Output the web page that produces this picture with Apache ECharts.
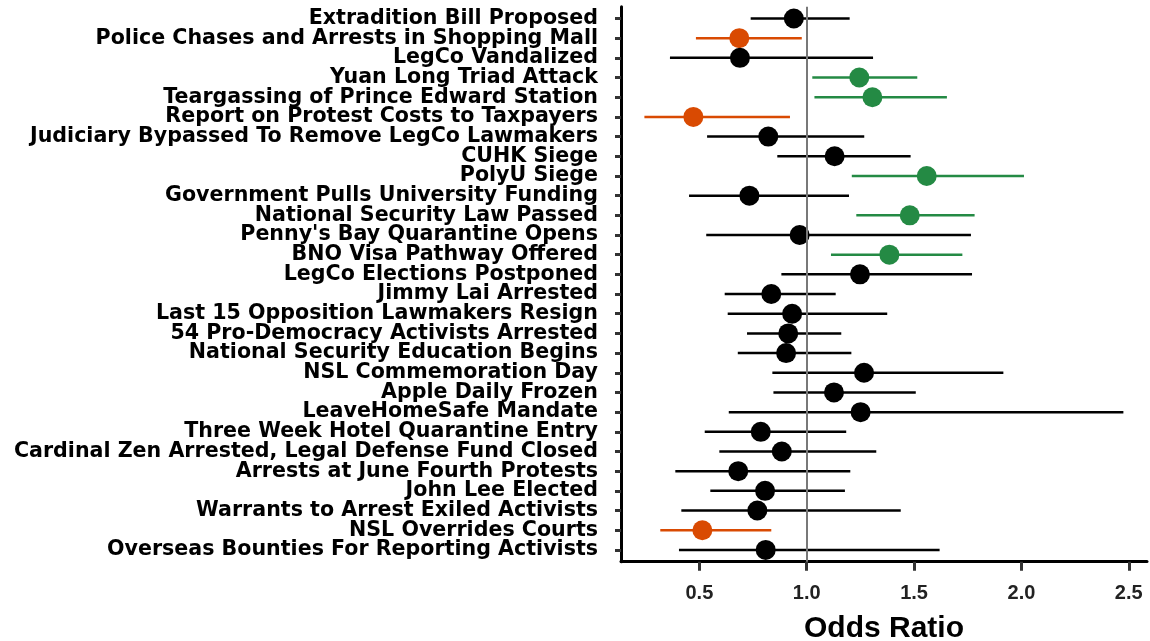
<!DOCTYPE html>
<html>
<head>
<meta charset="utf-8">
<script src="https://cdn.jsdelivr.net/npm/echarts@6/dist/echarts.min.js"></script>
<style>
  html, body { margin: 0; padding: 0; background: #ffffff; }
  #chart { width: 1150px; height: 641px; }
</style>
</head>
<body>
<div id="chart"></div>
<script>
// Events, listed top to bottom
const categories = [
  'Extradition Bill Proposed',
  'Police Chases and Arrests in Shopping Mall',
  'LegCo Vandalized',
  'Yuan Long Triad Attack',
  'Teargassing of Prince Edward Station',
  'Report on Protest Costs to Taxpayers',
  'Judiciary Bypassed To Remove LegCo Lawmakers',
  'CUHK Siege',
  'PolyU Siege',
  'Government Pulls University Funding',
  'National Security Law Passed',
  "Penny's Bay Quarantine Opens",
  'BNO Visa Pathway Offered',
  'LegCo Elections Postponed',
  'Jimmy Lai Arrested',
  'Last 15 Opposition Lawmakers Resign',
  '54 Pro-Democracy Activists Arrested',
  'National Security Education Begins',
  'NSL Commemoration Day',
  'Apple Daily Frozen',
  'LeaveHomeSafe Mandate',
  'Three Week Hotel Quarantine Entry',
  'Cardinal Zen Arrested, Legal Defense Fund Closed',
  'Arrests at June Fourth Protests',
  'John Lee Elected',
  'Warrants to Arrest Exiled Activists',
  'NSL Overrides Courts',
  'Overseas Bounties For Reporting Activists'
];

// Odds ratio point estimates
const estimate = [0.94, 0.686, 0.689, 1.245, 1.306, 0.472, 0.821, 1.130, 1.559, 0.733,
                  1.480, 0.967, 1.385, 1.248, 0.835, 0.932, 0.914, 0.904, 1.267, 1.127,
                  1.251, 0.786, 0.884, 0.681, 0.806, 0.770, 0.514, 0.809];

// Lower and upper confidence bounds
const lower = [0.739, 0.484, 0.363, 1.026, 1.036, 0.244, 0.536, 0.863, 1.210, 0.452,
               1.231, 0.532, 1.113, 0.882, 0.618, 0.632, 0.722, 0.679, 0.840, 0.845,
               0.637, 0.525, 0.593, 0.388, 0.551, 0.416, 0.318, 0.405];
const upper = [1.200, 0.977, 1.309, 1.515, 1.653, 0.922, 1.268, 1.484, 2.012, 1.197,
               1.782, 1.765, 1.725, 1.770, 1.135, 1.375, 1.161, 1.208, 1.916, 1.508,
               2.475, 1.184, 1.324, 1.203, 1.178, 1.438, 0.835, 1.619];

// X-axis tick values
const xTicks = [0.5, 1.0, 1.5, 2.0, 2.5];

const COLOR_DOWN = '#d94a02';
const COLOR_UP = '#248a44';
const COLOR_NS = '#000000';

function colorFor(i) {
  if (upper[i] < 1) return COLOR_DOWN;
  if (lower[i] > 1) return COLOR_UP;
  return COLOR_NS;
}

const rowIdx = categories.map((_, i) => i);
const barData = rowIdx.map(i => [lower[i], upper[i], i]);
const pointData = rowIdx.map(i => ({ value: [estimate[i], i], itemStyle: { color: colorFor(i), opacity: 1 } }));

// Panel geometry: rows sit on a value scale padded by 0.6 of a row on each side
const PAD = 0.6;
const TOP = 6.7, BOTTOM = 79.3, H = 641;
const rowPx = (H - TOP - BOTTOM) / (categories.length - 1 + 2 * PAD);
const bandInset = (PAD - 0.5) * rowPx;

const chart = echarts.init(document.getElementById('chart'), null, { renderer: 'canvas' });

chart.setOption({
  animation: false,
  backgroundColor: '#ffffff',
  grid: [
    { left: 621, right: 3, top: TOP, bottom: BOTTOM, containLabel: false, outerBoundsMode: 'none' },
    // label band: one category per row, aligned with the rows of the panel
    { left: 621, right: 3, top: TOP + bandInset, bottom: BOTTOM + bandInset, containLabel: false, outerBoundsMode: 'none' }
  ],
  xAxis: [
    {
      type: 'value',
      gridIndex: 0,
      min: 0.135,
      max: 2.585,
      name: 'Odds Ratio',
      nameLocation: 'middle',
      nameGap: 52,
      nameTextStyle: { fontFamily: 'Liberation Sans', fontWeight: 'bold', fontSize: 30, color: '#000' },
      axisLine: { show: true, onZero: false, lineStyle: { color: '#000', width: 3 } },
      axisTick: { show: true, customValues: xTicks, length: 9, lineStyle: { color: '#333', width: 3 } },
      axisLabel: {
        customValues: xTicks,
        formatter: v => v.toFixed(1),
        margin: 22,
        fontFamily: 'Liberation Sans', fontWeight: 'bold', fontSize: 20, color: '#222'
      },
      splitLine: { show: false }
    },
    { type: 'value', gridIndex: 1, show: false }
  ],
  yAxis: [
    {
      type: 'value',
      gridIndex: 0,
      inverse: true,
      min: -PAD,
      max: categories.length - 1 + PAD,
      axisLine: { show: true, onZero: false, lineStyle: { color: '#000', width: 3 } },
      axisTick: { show: true, customValues: rowIdx, length: 6, lineStyle: { color: '#333', width: 3 } },
      axisLabel: { show: false },
      splitLine: { show: false }
    },
    {
      type: 'category',
      gridIndex: 1,
      inverse: true,
      data: categories,
      axisLine: { show: false },
      axisTick: { show: false },
      axisLabel: {
        interval: 0,
        margin: 23,
        fontFamily: 'DejaVu Sans', fontWeight: 'bold', fontSize: 20.6, color: '#000'
      },
      splitLine: { show: false }
    }
  ],
  series: [
    {
      type: 'custom',
      xAxisIndex: 0,
      yAxisIndex: 0,
      z: 2,
      data: barData,
      encode: { x: [0, 1], y: 2 },
      renderItem: function (params, api) {
        const i = api.value(2);
        const a = api.coord([api.value(0), i]);
        const b = api.coord([api.value(1), i]);
        return {
          type: 'line',
          shape: { x1: a[0], y1: a[1], x2: b[0], y2: b[1] },
          style: { stroke: colorFor(i), lineWidth: 2.5 }
        };
      },
      markLine: {
        silent: true,
        symbol: 'none',
        label: { show: false },
        lineStyle: { color: '#787878', width: 2, type: 'solid' },
        data: [{ xAxis: 1 }]
      }
    },
    {
      type: 'scatter',
      xAxisIndex: 0,
      yAxisIndex: 0,
      z: 3,
      symbol: 'circle',
      symbolSize: 20,
      data: pointData
    }
  ]
});
</script>
</body>
</html>
